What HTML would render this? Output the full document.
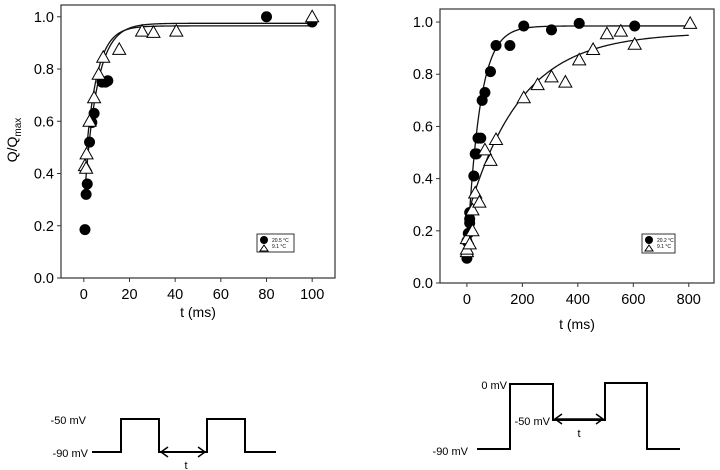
<!DOCTYPE html>
<html><head><meta charset="utf-8">
<style>
html,body{margin:0;padding:0;background:#fff;}
svg{display:block;font-family:"Liberation Sans",Arial,sans-serif;}
</style></head>
<body>
<svg id="fig" width="720" height="470" viewBox="0 0 720 470" xmlns="http://www.w3.org/2000/svg">
<g id="chartA"></g>
<g id="chartB"></g>
<g fill="none" stroke="#000" stroke-width="2">
  <polyline points="92,452 121,452 121,419 159,419 159,452 207,452 207,419 245,419 245,452 276,452"/>
  <line x1="162" y1="452" x2="204" y2="452" stroke-width="1.5"/>
  <polyline points="168,447 161,452 168,457" stroke-width="1.5"/>
  <polyline points="198,447 205,452 198,457" stroke-width="1.5"/>
</g>
<text x="86" y="424" font-size="11" text-anchor="end">-50 mV</text>
<text x="88" y="457" font-size="11" text-anchor="end">-90 mV</text>
<text x="186" y="469" font-size="11" text-anchor="middle">t</text>
<g fill="none" stroke="#000" stroke-width="2">
  <polyline points="477,449 510,449 510,384 553,384 553,420 605,420 605,383 647,383 647,449 680,449"/>
  <line x1="555" y1="419" x2="603" y2="419" stroke-width="1.5"/>
  <polyline points="562,414 555,419 562,424" stroke-width="1.5"/>
  <polyline points="596,414 603,419 596,424" stroke-width="1.5"/>
</g>
<text x="507" y="389" font-size="11" text-anchor="end">0 mV</text>
<text x="550" y="425" font-size="11" text-anchor="end">-50 mV</text>
<text x="468" y="455" font-size="11" text-anchor="end">-90 mV</text>
<text x="579" y="437" font-size="11" text-anchor="middle">t</text>
</svg>
<script>
// Left chart data
const leftFilledT = [0.5,1,1.5,2.5,3.5,4.5,8,9.5,10.5,80,100];
const leftFilledQ = [0.185,0.32,0.36,0.52,0.595,0.63,0.75,0.75,0.755,1.0,0.98];
const leftOpenT = [0.5,1,1.2,2.5,4.5,6.5,8.5,15.5,25.5,30.5,40.5,100];
const leftOpenQ = [0.43,0.42,0.475,0.6,0.69,0.78,0.845,0.875,0.945,0.94,0.945,1.0];
const leftFitFilled = [0.975,0.70,5.5]; // asymptote, amplitude, tau
const leftFitOpen = [0.965,0.60,5.0];
const leftXTicks = [0,20,40,60,80,100];
const leftYTicks = [0.0,0.2,0.4,0.6,0.8,1.0];
const leftLegend = ["20.5 °C","9.1 °C"];
// Right chart data
const rightFilledT = [0,0,0,5,10,10,10,25,30,35,40,50,55,65,85,105,155,205,305,405,605];
const rightFilledQ = [0.095,0.11,0.16,0.19,0.23,0.245,0.27,0.41,0.495,0.495,0.555,0.555,0.70,0.73,0.81,0.91,0.91,0.985,0.97,0.995,0.985];
const rightOpenT = [0,0,0,10,20,20,30,45,65,85,105,205,255,305,355,405,455,505,555,605,805];
const rightOpenQ = [0.12,0.13,0.17,0.15,0.20,0.28,0.345,0.31,0.51,0.47,0.55,0.71,0.76,0.79,0.77,0.855,0.895,0.955,0.965,0.915,0.995];
const rightFitFilled = [0.985,0.885,45];
const rightFitOpen = [0.96,0.71,190];
const rightXTicks = [0,200,400,600,800];
const rightYTicks = [0.0,0.2,0.4,0.6,0.8,1.0];
const rightLegend = ["20.2 °C","9.1 °C"];

const NS="http://www.w3.org/2000/svg";
function mk(p,tag,attrs){const e=document.createElementNS(NS,tag);for(const k in attrs)e.setAttribute(k,attrs[k]);p.appendChild(e);return e;}

function draw(g, cfg){
  const {L,R,T,B,xmin,xmax,ymin,ymax,fT,fQ,oT,oQ,fitF,fitO,xt,yt,leg,legBox,fitStart,fitEnd,yTitle,xTitleY,xTitleX,pfx}=cfg;
  const sx=v=>L+(v-xmin)/(xmax-xmin)*(R-L);
  const sy=v=>B-(v-ymin)/(ymax-ymin)*(B-T);
  const frame=mk(g,'rect',{x:L,y:T,width:R-L,height:B-T,fill:'none',stroke:'#333','stroke-width':1.2});
  
  
  xt.forEach(v=>{
    const t=mk(g,'line',{x1:sx(v),x2:sx(v),y1:B,y2:B+4,stroke:'#333'});
    
    
    const tx=mk(g,'text',{x:sx(v),y:B+21,'font-size':14.5,'text-anchor':'middle'});
    tx.textContent=v;
    
    
  });
  yt.forEach(v=>{
    const t=mk(g,'line',{x1:L-4,x2:L,y1:sy(v),y2:sy(v),stroke:'#333'});
    
    
    const tx=mk(g,'text',{x:L-7,y:sy(v)+5,'font-size':14.5,'text-anchor':'end'});
    tx.textContent=v.toFixed(1);
    
    
  });
  const xtl=mk(g,'text',{x:xTitleX,y:xTitleY,'font-size':14,'text-anchor':'middle'});
  xtl.textContent='t (ms)';
  
  
  if(yTitle){
    const yl=mk(g,'text',{transform:'translate(17,140) rotate(-90)','font-size':14,'text-anchor':'middle'});
    yl.innerHTML='Q/Q<tspan font-size="10" dy="4">max</tspan>';
    
    
  }
  [[fitF,'fit-filled'],[fitO,'fit-open']].forEach(([p,n])=>{
    let d='';
    for(let i=0;i<=200;i++){const t=fitStart+(fitEnd-fitStart)*i/200;const q=p[0]-p[1]*Math.exp(-t/p[2]);d+=(i?'L':'M')+sx(t).toFixed(2)+','+sy(q).toFixed(2);}
    const pth=mk(g,'path',{d:d,fill:'none',stroke:'#111','stroke-width':1.3});
    
    
  });
  fT.forEach((t,i)=>{
    const c=mk(g,'circle',{cx:sx(t),cy:sy(fQ[i]),r:5.5,fill:'#000'});
    
    
  });
  oT.forEach((t,i)=>{
    const x=sx(t),y=sy(oQ[i]);
    const p=mk(g,'polygon',{points:`${x},${y-6.5} ${x-6.5},${y+5} ${x+6.5},${y+5}`,fill:'#fff',stroke:'#000','stroke-width':1});
    
    
  });
  const lg=mk(g,'g',{});
  
  
  mk(lg,'rect',{x:legBox[0],y:legBox[1],width:legBox[2],height:legBox[3],fill:'#fff',stroke:'#333','stroke-width':1});
  const lx=legBox[0]+7, ly=legBox[1]+6;
  mk(lg,'circle',{cx:lx,cy:ly,r:4,fill:'#000'});
  mk(lg,'polygon',{points:`${lx},${ly+5} ${lx-4},${ly+11} ${lx+4},${ly+11}`,fill:'#fff',stroke:'#000','stroke-width':1});
  leg.forEach((s,i)=>{
    const t=mk(lg,'text',{x:lx+8,y:ly+2+i*6,'font-size':5});
    t.textContent=s;
    
    
  });
}
draw(document.getElementById('chartA'),{pfx:'left',L:61,R:335,T:5,B:278,xmin:-10,xmax:110,ymin:0,ymax:1.045,
  fT:leftFilledT,fQ:leftFilledQ,oT:leftOpenT,oQ:leftOpenQ,fitF:leftFitFilled,fitO:leftFitOpen,xt:leftXTicks,yt:leftYTicks,leg:leftLegend,
  legBox:[257,234,37,18],fitStart:0.5,fitEnd:100,yTitle:true,xTitleX:198,xTitleY:317});
draw(document.getElementById('chartB'),{pfx:'right',L:440,R:714,T:9,B:283,xmin:-97,xmax:891,ymin:0,ymax:1.05,
  fT:rightFilledT,fQ:rightFilledQ,oT:rightOpenT,oQ:rightOpenQ,fitF:rightFitFilled,fitO:rightFitOpen,xt:rightXTicks,yt:rightYTicks,leg:rightLegend,
  legBox:[642,234,33,19],fitStart:5,fitEnd:800,yTitle:false,xTitleX:577,xTitleY:329});
</script>
</body></html>
